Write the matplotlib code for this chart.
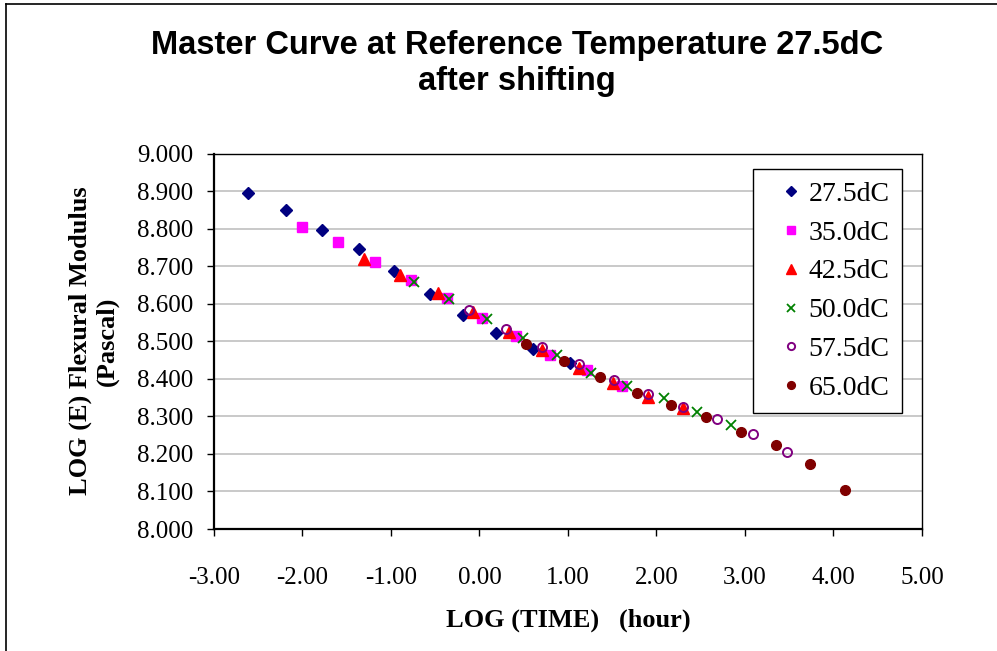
"""
Master curve of flexural modulus after time-temperature shifting
"""
import matplotlib
matplotlib.use("Agg")
import matplotlib.pyplot as plt
from matplotlib.lines import Line2D

# log(time) / log(E) pairs, one series per test temperature
x275 = [-2.61, -2.19, -1.78, -1.36, -0.97, -0.56, -0.19, 0.19, 0.60, 1.02]
y275 = [8.895, 8.849, 8.797, 8.746, 8.687, 8.626, 8.570, 8.523, 8.480, 8.443]

x350 = [-2.01, -1.60, -1.18, -0.77, -0.37, 0.03, 0.41, 0.80, 1.21, 1.61]
y350 = [8.804, 8.764, 8.711, 8.665, 8.615, 8.563, 8.514, 8.465, 8.424, 8.380]

x425 = [-1.31, -0.90, -0.47, -0.07, 0.33, 0.71, 1.12, 1.51, 1.91, 2.30]
y425 = [8.721, 8.676, 8.630, 8.578, 8.526, 8.477, 8.430, 8.390, 8.352, 8.323]

x500 = [-0.74, -0.34, 0.09, 0.49, 0.88, 1.26, 1.67, 2.08, 2.46, 2.84]
y500 = [8.658, 8.613, 8.561, 8.510, 8.463, 8.416, 8.380, 8.350, 8.311, 8.277]

x575 = [-0.12, 0.30, 0.71, 1.12, 1.52, 1.91, 2.30, 2.69, 3.09, 3.48]
y575 = [8.583, 8.533, 8.486, 8.439, 8.398, 8.361, 8.326, 8.293, 8.252, 8.206]

x650 = [0.53, 0.95, 1.36, 1.78, 2.16, 2.56, 2.95, 3.35, 3.74, 4.13]
y650 = [8.493, 8.447, 8.404, 8.363, 8.330, 8.298, 8.259, 8.223, 8.172, 8.103]

labels = ["27.5dC", "35.0dC", "42.5dC", "50.0dC", "57.5dC", "65.0dC"]
xticks = [-3, -2, -1, 0, 1, 2, 3, 4, 5]
yticks = [8.0, 8.1, 8.2, 8.3, 8.4, 8.5, 8.6, 8.7, 8.8, 8.9, 9.0]

serif = "Liberation Serif"

fig = plt.figure(figsize=(9.97, 6.51), dpi=100)
ax = fig.add_axes([0.2146, 0.1874, 0.7101, 0.5763])

ax.plot(x275, y275, ls="none", marker="D", ms=6.5, color="#000080", label=labels[0])
ax.plot(x350, y350, ls="none", marker="s", ms=7, color="#FF00FF", label=labels[1])
ax.plot(x425, y425, ls="none", marker="^", ms=8.5, color="#FF0000", label=labels[2])
ax.plot(x500, y500, ls="none", marker="x", ms=7, mew=1.3, color="#008000", label=labels[3])
ax.plot(x575, y575, ls="none", marker="o", ms=6.5, mew=1.4, mfc="none",
        mec="#800080", label=labels[4])
ax.plot(x650, y650, ls="none", marker="o", ms=7, color="#800000", label=labels[5])

ax.set_xlim(-3, 5)
ax.set_ylim(8.0, 9.0)
ax.set_xticks(xticks)
ax.set_yticks(yticks)
ax.set_xticklabels(["%.2f" % v for v in xticks], fontfamily=serif, fontsize=18)
ax.set_yticklabels(["%.3f" % v for v in yticks], fontfamily=serif, fontsize=18)
ax.tick_params(axis="x", direction="out", length=5, width=1, pad=22)
ax.tick_params(axis="y", direction="out", length=5, width=1, pad=10)
ax.yaxis.grid(True, color="#C0C0C0", lw=1.2)
ax.set_axisbelow(True)
ax.spines["left"].set_linewidth(1.6)
ax.spines["bottom"].set_linewidth(1.6)
ax.spines["top"].set_linewidth(1.0)
ax.spines["right"].set_linewidth(1.0)

leg = ax.legend(loc="upper left", bbox_to_anchor=(753 / 997, 1 - 169 / 651),
                bbox_transform=fig.transFigure, prop={"family": serif, "size": 20},
                frameon=True, fancybox=False, framealpha=1, edgecolor="black",
                handlelength=1.87, handletextpad=-0.33, labelspacing=0.48,
                borderpad=0.45, borderaxespad=0, markerscale=0.8)
leg.get_frame().set_linewidth(1.0)

fig.text(0.5186, 0.903, "Master Curve at Reference Temperature 27.5dC\nafter shifting",
         ha="center", va="center", fontfamily="Liberation Sans", fontweight="bold",
         fontsize=23.5, linespacing=1.2)
fig.text(0.094, 0.476, "LOG (E) Flexural Modulus\n(Pascal)", rotation=90,
         ha="center", va="center", multialignment="center", fontfamily=serif,
         fontweight="bold", fontsize=19, linespacing=1.2)
fig.text(0.5697, 0.0476, "LOG (TIME)   (hour)", ha="center", va="center",
         fontfamily=serif, fontweight="bold", fontsize=19)

# chart area border (only left and top edges show in the crop)
fig.add_artist(Line2D([6 / 997, 6 / 997], [0, 1 - 4 / 651], color="black", lw=1.2))
fig.add_artist(Line2D([6 / 997, 1], [1 - 4 / 651, 1 - 4 / 651], color="black", lw=1.2))

fig.savefig("out.png", dpi=100)
